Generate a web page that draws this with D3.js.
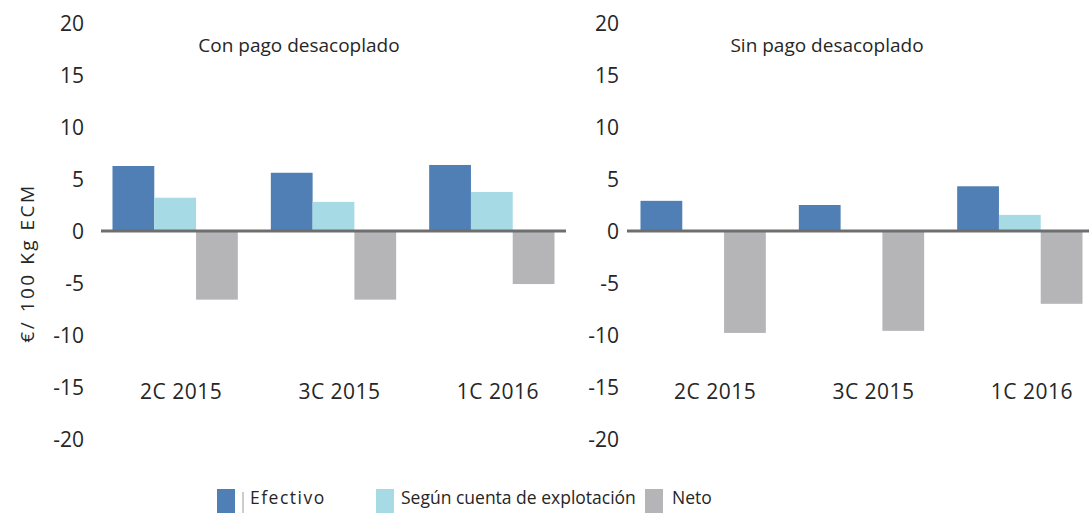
<!DOCTYPE html>
<html>
<head>
<meta charset="utf-8">
<script src="https://cdn.jsdelivr.net/npm/d3@7"></script>
<style>
  body { margin: 0; background: #fff; }
  svg text { font-family: "Open Sans", sans-serif; fill: #262626; }
</style>
</head>
<body>
<div id="plot"></div>
<script>
// data
const categories = ["2C 2015", "3C 2015", "1C 2016"];
const series = ["Efectivo", "Según cuenta de explotación", "Neto"];
const conEfectivo = [6.25, 5.6, 6.35];
const conSegun = [3.2, 2.8, 3.75];
const conNeto = [-6.6, -6.6, -5.1];
const sinEfectivo = [2.9, 2.5, 4.3];
const sinSegun = [0, 0, 1.55];
const sinNeto = [-9.8, -9.6, -7.0];
const yTicks = [20, 15, 10, 5, 0, -5, -10, -15, -20];
const colors = ["#4f7fb4", "#a6dbe6", "#b5b5b8"];

const w = 1089, h = 513;

const svg = d3.select("div#plot")
  .append("svg")
  .attr("width", w)
  .attr("height", h);

const yScale = d3.scaleLinear().domain([-20, 20]).range([439, 23]);
const colorScale = d3.scaleOrdinal().domain(series).range(colors);

const panels = [
  { title: "Con pago desacoplado", values: [conEfectivo, conSegun, conNeto],
    range: [96, 571], tickX: 84, lineX: [101, 566], labelShift: 6, titleX: 299 },
  { title: "Sin pago desacoplado", values: [sinEfectivo, sinSegun, sinNeto],
    range: [624, 1099], tickX: 619, lineX: [627, 1099], labelShift: 12, titleX: 827 }
];

panels.forEach((p, pi) => {
  const g = svg.append("g").attr("id", "panel" + pi);

  const x0 = d3.scaleBand().domain(categories).range(p.range).padding(0);
  const pad = 16.5;
  const x1 = d3.scaleBand().domain(series).range([pad, x0.bandwidth() - pad]).padding(0);

  // rows: one per category and series
  const rows = [];
  categories.forEach((c, ci) => {
    series.forEach((s, si) => rows.push({ cat: c, ser: s, v: p.values[si][ci] }));
  });

  // y tick labels
  g.append("g")
    .selectAll("text")
    .data(yTicks)
    .enter()
    .append("text")
    .attr("x", p.tickX)
    .attr("y", d => yScale(d))
    .attr("text-anchor", "end")
    .attr("dominant-baseline", "central")
    .style("font-size", "21px")
    .text(d => d);

  // bars
  g.append("g")
    .selectAll("rect")
    .data(rows)
    .enter()
    .append("rect")
    .attr("x", d => x0(d.cat) + x1(d.ser))
    .attr("y", d => yScale(Math.max(0, d.v)))
    .attr("width", x1.bandwidth())
    .attr("height", d => Math.abs(yScale(d.v) - yScale(0)))
    .style("fill", d => colorScale(d.ser));

  // zero line
  g.append("line")
    .attr("x1", p.lineX[0])
    .attr("x2", p.lineX[1])
    .attr("y1", yScale(0))
    .attr("y2", yScale(0))
    .attr("stroke", "#6e6e6e")
    .attr("stroke-width", 3);

  // category labels
  g.append("g")
    .selectAll("text")
    .data(categories)
    .enter()
    .append("text")
    .attr("x", d => x0(d) + x0.bandwidth() / 2 + p.labelShift)
    .attr("y", 399)
    .attr("text-anchor", "middle")
    .style("font-size", "21px")
    .style("letter-spacing", "0.5px")
    .text(d => d);

  // panel title
  g.append("text")
    .attr("x", p.titleX)
    .attr("y", 52)
    .attr("text-anchor", "middle")
    .style("font-size", "19px")
    .text(p.title);
});

// y-axis label
svg.append("text")
  .attr("transform", "translate(27, 263) rotate(-90)")
  .attr("text-anchor", "middle")
  .attr("dominant-baseline", "central")
  .style("font-size", "19px")
  .style("letter-spacing", "2.5px")
  .text("€/ 100 Kg ECM");

// legend
const legendX = [{ box: 217, text: 250 }, { box: 376, text: 401 }, { box: 645, text: 672 }];
const legend = svg.append("g").attr("id", "legend");
legend.selectAll("rect")
  .data(series)
  .enter()
  .append("rect")
  .attr("x", (d, i) => legendX[i].box)
  .attr("y", 489)
  .attr("width", 18)
  .attr("height", 24)
  .style("fill", d => colorScale(d));
legend.append("line")
  .attr("x1", 243).attr("x2", 243)
  .attr("y1", 492).attr("y2", 513)
  .attr("stroke", "#9a9a9a")
  .attr("stroke-width", 1);
legend.selectAll("text")
  .data(series)
  .enter()
  .append("text")
  .attr("x", (d, i) => legendX[i].text)
  .attr("y", 504)
  .style("font-size", "17.5px")
  .style("letter-spacing", (d, i) => i === 0 ? "1.5px" : "0px")
  .text(d => d);
</script>
</body>
</html>
